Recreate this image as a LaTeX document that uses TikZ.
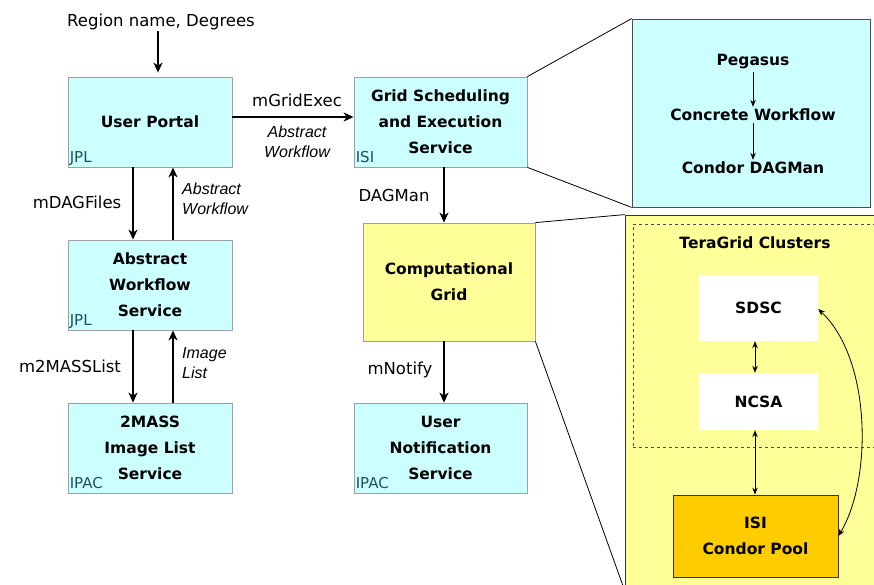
\documentclass[tikz,border=0pt]{standalone}
\usepackage{fontspec}
\setmainfont{DejaVu Sans}
\newfontfamily\itfont{Liberation Sans}
\usetikzlibrary{arrows.meta}
\definecolor{svccyan}{HTML}{CCFFFF}
\definecolor{gridyellow}{HTML}{FFFF99}
\definecolor{poolgold}{HTML}{FFCC00}
\definecolor{sitecol}{HTML}{1F4F5F}
\tikzset{
 svc/.style={draw=gray!75, line width=0.8pt, fill=svccyan, minimum width=164pt, minimum height=90pt,
  align=center, font=\bfseries\fontsize{15.5}{26}\selectfont},
 gridbox/.style={svc, fill=gridyellow},
 site/.style={text=sitecol, inner sep=0pt, font=\fontsize{15}{16}\selectfont},
 lbl/.style={inner sep=1pt, font=\fontsize{16.5}{18}\selectfont},
 itlbl/.style={inner sep=1pt, align=left, font=\itfont\itshape\fontsize{16}{20}\selectfont},
 bold/.style={inner sep=2pt, align=center, font=\bfseries\fontsize{15.5}{26}\selectfont},
 flow/.style={line width=1.5pt, -{Stealth[length=10pt,width=9pt,inset=3pt]}},
 thinflow/.style={line width=0.8pt, -{Stealth[length=7pt,width=5.5pt]}},
 twoway/.style={line width=0.8pt, {Stealth[length=7pt,width=5.5pt]}-{Stealth[length=7pt,width=5.5pt]}},
 zoomln/.style={line width=0.8pt},
}
\begin{document}
\begin{tikzpicture}[x=1pt,y=-1pt]
 \useasboundingbox (0,0) rectangle (874,585);
 \clip (0,0) rectangle (874,585);
 \fill[white] (0,0) rectangle (874,585);

 % left column
 \node[lbl] (rgn) at (161,22) {Region name, Degrees};
 \node[svc] (up) at (150,122) {User Portal};
 \node[svc] (awf) at (150,285) {Abstract\\Workflow\\Service};
 \node[svc] (mass) at (150,448) {2MASS\\Image List\\Service};
 \node[site, anchor=base west] at ([xshift=2pt,yshift=5pt]up.south west) {JPL};
 \node[site, anchor=base west] at ([xshift=2pt,yshift=5pt]awf.south west) {JPL};
 \node[site, anchor=base west] at ([xshift=2pt,yshift=5pt]mass.south west) {IPAC};

 % middle column
 \node[svc, minimum width=173pt] (gss) at (440.5,122) {Grid Scheduling\\and Execution\\Service};
 \node[gridbox, minimum width=172pt, minimum height=118pt] (cg) at (449,282) {Computational\\Grid};
 \node[svc, minimum width=173pt] (unot) at (440.5,448) {User\\Notification\\Service};
 \node[site, anchor=base west] at ([xshift=2pt,yshift=5pt]gss.south west) {ISI};
 \node[site, anchor=base west] at ([xshift=2pt,yshift=5pt]unot.south west) {IPAC};

 % labels on the connectors
 \node[lbl] (gexec) at (297,100) {mGridExec};
 \node[itlbl, align=center] (awlab) at (297,142) {Abstract\\Workflow};
 \node[lbl] (dagf) at (77,202) {mDAGFiles};
 \node[itlbl, anchor=west] (awback) at (181,199) {Abstract\\Workflow};
 \node[lbl] (mlist) at (70,366) {m2MASSList};
 \node[itlbl, anchor=west] (imgl) at (181,363) {Image\\List};
 \node[lbl] (dagm) at (394,195) {DAGMan};
 \node[lbl] (mnot) at (400,370) {mNotify};

 \draw[flow] (rgn.south -| 158,0) -- ([yshift=4pt]up.north -| 158,0);
 \draw[flow] ([yshift=5pt]up.east) -- ([yshift=5pt]gss.west);
 \draw[flow] ([xshift=-17pt]up.south) -- ([xshift=-17pt]awf.north);
 \draw[flow] ([xshift=23pt]awf.north) -- ([xshift=23pt]up.south);
 \draw[flow] ([xshift=-17pt]awf.south) -- ([xshift=-17pt]mass.north);
 \draw[flow] ([xshift=23pt]mass.north) -- ([xshift=23pt]awf.south);
 \draw[flow] ([xshift=3.5pt]gss.south) -- ([xshift=3.5pt]gss.south |- cg.north);
 \draw[flow] ([xshift=3.5pt]unot.north |- cg.south) -- ([xshift=3.5pt]unot.north);

 % zoom of the scheduler
 \node[draw=gray!60!black, line width=0.8pt, fill=svccyan, minimum width=238pt, minimum height=188pt] (peg) at (751,113) {};
 \node[bold] (pegs) at (753,62) {Pegasus};
 \node[bold] (cwf) at (753,115) {Concrete Workflow};
 \node[bold] (cdag) at (753,168) {Condor DAGMan};
 \draw[thinflow] (pegs) -- (cwf);
 \draw[thinflow] (cwf) -- (cdag);
 \draw[zoomln] (gss.north east) -- (peg.north west);
 \draw[zoomln] (gss.south east) -- (peg.south west);

 % zoom of the grid
 \node[draw=gray!40!black, line width=0.8pt, fill=gridyellow, minimum width=255pt, minimum height=375pt] (tg) at (752.5,402.5) {};
 \node[draw=black!70, dashed, line width=0.8pt, minimum width=247pt, minimum height=223pt] (clus) at (756.5,335.5) {};
 \node[bold] (tgt) at (755,243) {TeraGrid Clusters};
 \node[bold, fill=white, minimum width=119pt, minimum height=66pt] (sdsc) at (758.5,308) {SDSC};
 \node[bold, fill=white, minimum width=119pt, minimum height=57pt] (ncsa) at (758.5,401.5) {NCSA};
 \node[bold, draw=black!80, line width=0.8pt, fill=poolgold, minimum width=165pt, minimum height=82pt] (pool) at (755.5,536) {ISI\\Condor Pool};
 \draw[twoway] (sdsc.south -| tgt) -- (ncsa.north -| tgt);
 \draw[twoway] (ncsa.south -| tgt) -- (pool.north -| tgt);
 \draw[twoway] ([yshift=-1pt]sdsc.east) .. controls (872,360) and (872,480) .. (pool.east);
 \draw[zoomln] (cg.north east) -- (tg.north west);
 \draw[zoomln] (cg.south east) -- (tg.south west);
\end{tikzpicture}
\end{document}
